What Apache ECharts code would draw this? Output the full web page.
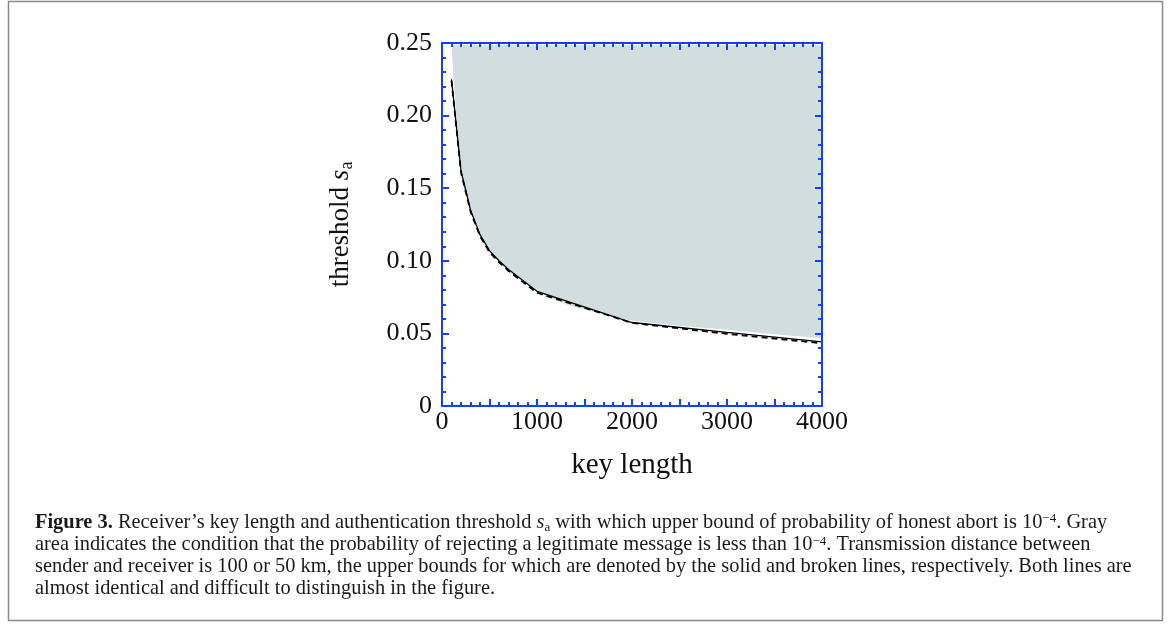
<!DOCTYPE html>
<html>
<head>
<meta charset="utf-8">
<script src="https://cdn.jsdelivr.net/npm/echarts@6/dist/echarts.min.js"></script>
<style>
html,body{margin:0;padding:0;background:#fff;}
#chart{width:1170px;height:626px;}
</style>
</head>
<body>
<div id="chart"></div>
<script>
// ---- data ----
const keyLength = [100, 200, 300, 400, 500, 600, 700, 800, 900, 1000, 2000, 3000, 4000];
const bound100km = [0.225, 0.162, 0.135, 0.118, 0.107, 0.100, 0.094, 0.089, 0.084, 0.079, 0.0575, 0.0507, 0.0442];
const bound50km  = [0.224, 0.161, 0.134, 0.117, 0.106, 0.099, 0.093, 0.088, 0.083, 0.078, 0.0572, 0.0497, 0.0432];
const grayKeyLength = [100, 125, 150, 200, 250, 300, 400, 500, 600, 700, 800, 900, 1000, 1100, 1200, 1300, 1400, 1500, 1600, 1700, 1800, 1900, 2000, 2500, 3000, 3500, 4000];
const grayBoundary = [0.2485, 0.222, 0.199, 0.166, 0.148, 0.136, 0.119, 0.108, 0.1005, 0.0945, 0.089, 0.0845, 0.0795, 0.0755, 0.0728, 0.0703, 0.0682, 0.0664, 0.0648, 0.0632, 0.0617, 0.0601, 0.0587, 0.0553, 0.0525, 0.0495, 0.0466];
const xTicks = [0, 1000, 2000, 3000, 4000];
const yTicks = [0, 0.05, 0.10, 0.15, 0.20, 0.25];

const captionLines = [
  '{b|Figure 3.} Receiver\u2019s key length and authentication threshold {i|s}{sub|a} with which upper bound of probability of honest abort is 10{sup|\u22124}. Gray',
  'area indicates the condition that the probability of rejecting a legitimate message is less than 10{sup|\u22124}. Transmission distance between',
  'sender and receiver is 100 or 50 km, the upper bounds for which are denoted by the solid and broken lines, respectively. Both lines are',
  'almost identical and difficult to distinguish in the figure.'
];

const pairs = (xs, ys) => xs.map((x, i) => [x, ys[i]]);

const BLUE = '#1a3cff';
const FONT = 'Liberation Serif';

function axisCommon(show) {
  return {
    z: 10,
    axisLine: { show: true, onZero: false, lineStyle: { color: BLUE, width: 2 } },
    axisTick: { show: true, inside: true, length: 7, lineStyle: { color: BLUE, width: 2 } },
    minorTick: { show: true, splitNumber: 5, length: 4, lineStyle: { color: BLUE, width: 2 } },
    splitLine: { show: false },
    minorSplitLine: { show: false },
    axisLabel: { show: show }
  };
}

const chart = echarts.init(document.getElementById('chart'), null, { renderer: 'canvas' });

const CAPFS = 20.4;
const capRich = {
  b: { fontFamily: FONT, fontSize: CAPFS, fontWeight: 'bold', color: '#1a1a1a', lineHeight: 22 },
  i: { fontFamily: FONT, fontSize: CAPFS, fontStyle: 'italic', color: '#1a1a1a', lineHeight: 22 },
  sub: { fontFamily: FONT, fontSize: 13, color: '#1a1a1a', lineHeight: 13, verticalAlign: 'bottom' },
  sup: { fontFamily: FONT, fontSize: 13, color: '#1a1a1a', lineHeight: 13, verticalAlign: 'top' }
};
const capY = [523, 545, 567, 589];

const option = {
  backgroundColor: '#fff',
  animation: false,
  grid: { left: 442, top: 43, width: 380, height: 363, containLabel: false },
  xAxis: [
    Object.assign(axisCommon(true), {
      type: 'value', min: 0, max: 4000, interval: 500, position: 'bottom',
      name: 'key length', nameLocation: 'middle', nameGap: 45,
      nameTextStyle: { fontFamily: FONT, fontSize: 29, color: '#111' },
      axisLabel: {
        show: true, margin: 3, fontFamily: FONT, fontSize: 26, color: '#111',
        formatter: v => (xTicks.indexOf(v) >= 0 ? String(v) : '')
      }
    }),
    Object.assign(axisCommon(false), { type: 'value', min: 0, max: 4000, interval: 500, position: 'top' })
  ],
  yAxis: [
    Object.assign(axisCommon(true), {
      type: 'value', min: 0, max: 0.25, interval: 0.05, position: 'left',
      name: '{t|threshold }{s|s}{a|a}', nameLocation: 'middle', nameGap: 86, nameRotate: 90,
      nameTextStyle: {
        rich: {
          t: { fontFamily: FONT, fontSize: 27, color: '#111', lineHeight: 30 },
          s: { fontFamily: FONT, fontSize: 27, fontStyle: 'italic', color: '#111', lineHeight: 30 },
          a: { fontFamily: FONT, fontSize: 18, color: '#111', lineHeight: 18, verticalAlign: 'bottom' }
        }
      },
      axisLabel: {
        show: true, margin: 10, fontFamily: FONT, fontSize: 26, color: '#111',
        formatter: v => {
          const k = yTicks.findIndex(t => Math.abs(t - v) < 1e-9);
          if (k < 0) return '';
          return v === 0 ? '0' : v.toFixed(2);
        }
      }
    }),
    Object.assign(axisCommon(false), { type: 'value', min: 0, max: 0.25, interval: 0.05, position: 'right' })
  ],
  series: [
    {
      type: 'line', name: 'region', xAxisIndex: 0, yAxisIndex: 0,
      data: pairs(grayKeyLength, grayBoundary),
      showSymbol: false, silent: true,
      lineStyle: { width: 0 },
      areaStyle: { color: '#d2dddd', opacity: 1, origin: 0.2485 },
      z: 1
    },
    {
      type: 'line', name: '50 km', xAxisIndex: 0, yAxisIndex: 0,
      data: pairs(keyLength, bound50km),
      showSymbol: false, silent: true,
      lineStyle: { color: '#000', width: 1.8, type: [6, 4] },
      z: 3
    },
    {
      type: 'line', name: '100 km', xAxisIndex: 0, yAxisIndex: 0,
      data: pairs(keyLength, bound100km),
      showSymbol: false, silent: true,
      lineStyle: { color: '#000', width: 1.3 },
      z: 4
    }
  ],
  graphic: [
    {
      type: 'rect', silent: true, z: -1,
      shape: { x: 8.5, y: 1.5, width: 1154, height: 619 },
      style: { fill: 'none', stroke: '#8a8a8a', lineWidth: 1.5 }
    }
  ].concat(captionLines.map((txt, k) => ({
    type: 'text', silent: true,
    x: 35, y: capY[k],
    style: {
      text: txt,
      rich: capRich,
      fontFamily: FONT, fontSize: CAPFS, fill: '#1a1a1a',
      verticalAlign: 'middle', align: 'left'
    }
  })))
};
chart.setOption(option);
</script>
</body>
</html>
